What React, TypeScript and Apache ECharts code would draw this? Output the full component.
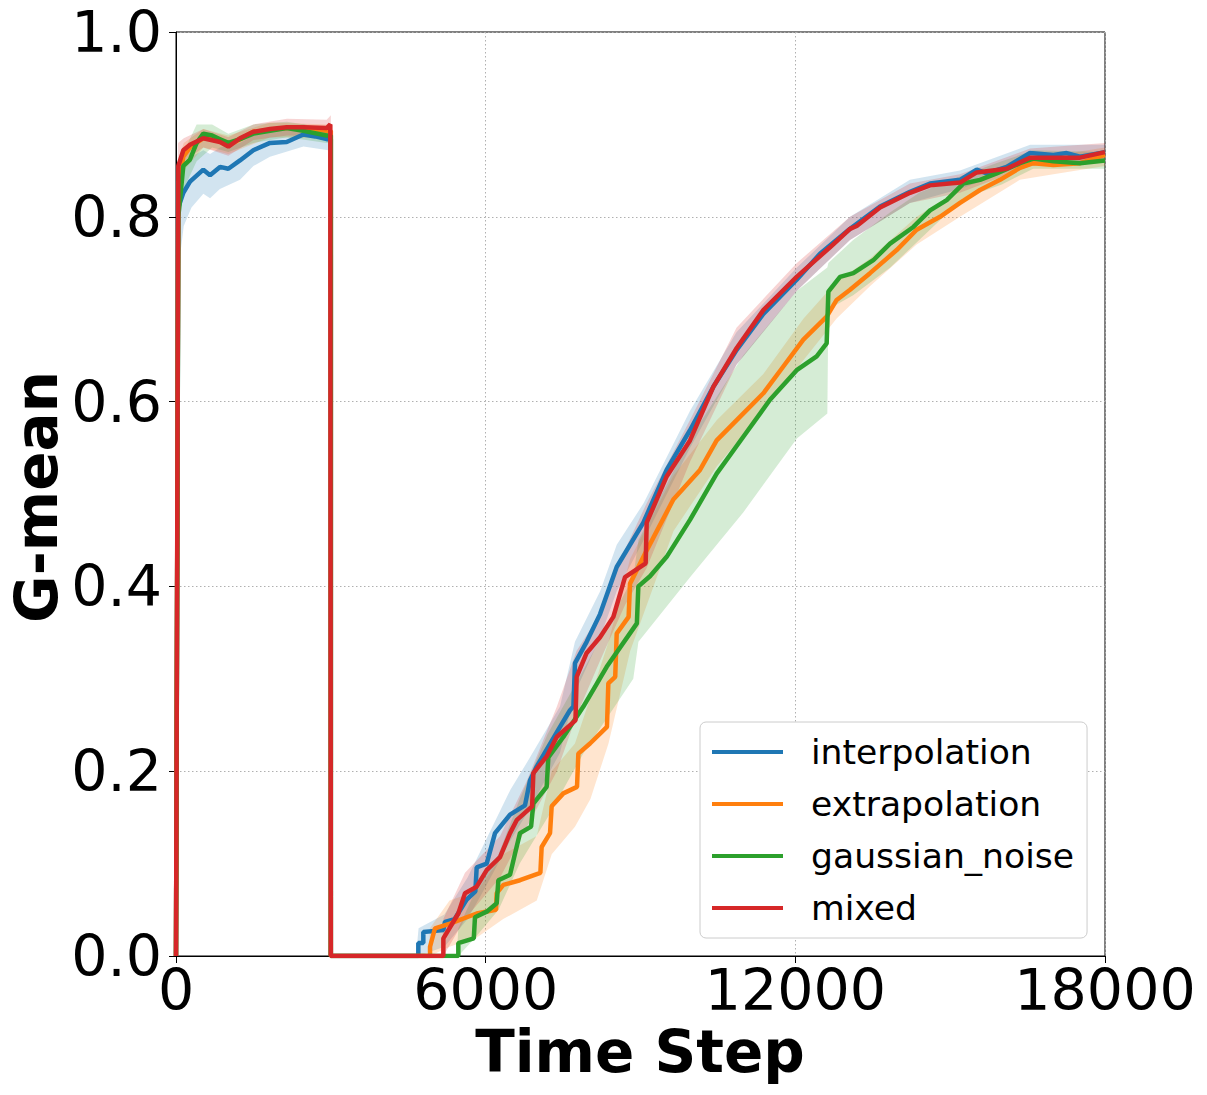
import React, { useEffect, useRef } from "react";
import * as echarts from "echarts";

const seriesNames = ["interpolation", "extrapolation", "gaussian_noise", "mixed"];
const seriesColors = ["#1f77b4", "#ff7f0e", "#2ca02c", "#d62728"];
const xTicks = [0, 6000, 12000, 18000];
const yTicks = [0, 0.2, 0.4, 0.6, 0.8, 1.0];

const interpMean = [
  [0, 0], [45, 0.81], [142, 0.826], [271, 0.838], [529, 0.851], [659, 0.845], [853, 0.854], [1014, 0.852],
  [1240, 0.861], [1498, 0.872], [1821, 0.88], [2145, 0.881], [2467, 0.889], [2700, 0.887], [2920, 0.884],
  [3000, 0.884], [3000, 0], [4695, 0], [4695, 0.014], [4792, 0.014], [4792, 0.026], [5180, 0.028],
  [5212, 0.037], [5400, 0.04], [5632, 0.061], [5800, 0.07], [5826, 0.096], [6020, 0.1], [6181, 0.133],
  [6472, 0.153], [6762, 0.163], [6859, 0.19], [6989, 0.205], [7440, 0.248], [7634, 0.266], [7700, 0.27],
  [7731, 0.317], [7957, 0.34], [8216, 0.37], [8539, 0.421], [9055, 0.469], [9507, 0.526], [9959, 0.569],
  [10411, 0.616], [10864, 0.656], [11380, 0.695], [12026, 0.732], [12478, 0.76], [13060, 0.787],
  [13641, 0.811], [14222, 0.827], [14610, 0.836], [15191, 0.84], [15514, 0.851], [15708, 0.847],
  [16095, 0.854], [16547, 0.869], [16999, 0.867], [17257, 0.869], [17516, 0.865], [18000, 0.87],
];

const extrapMean = [
  [0, 0], [45, 0.83], [142, 0.865], [271, 0.875], [529, 0.885], [853, 0.884], [1014, 0.877], [1240, 0.884],
  [1498, 0.892], [1821, 0.894], [2145, 0.896], [2467, 0.896], [2920, 0.893], [3000, 0.893], [3000, 0],
  [4922, 0], [4922, 0.01], [5018, 0.03], [5309, 0.035], [5826, 0.046], [6200, 0.05], [6214, 0.068],
  [6343, 0.077], [6665, 0.082], [7060, 0.09], [7085, 0.118], [7247, 0.133], [7279, 0.162], [7505, 0.176],
  [7770, 0.183], [7796, 0.219], [8022, 0.23], [8350, 0.248], [8377, 0.295], [8510, 0.302], [8539, 0.349],
  [8770, 0.367], [8797, 0.403], [9120, 0.439], [9636, 0.494], [10153, 0.526], [10476, 0.558],
  [10864, 0.58], [11380, 0.609], [11767, 0.638], [12155, 0.667], [12607, 0.692], [12801, 0.71],
  [13060, 0.721], [13447, 0.739], [13964, 0.764], [14351, 0.786], [14803, 0.8], [15191, 0.815],
  [15578, 0.829], [15966, 0.84], [16353, 0.853], [16611, 0.858], [16999, 0.856], [17516, 0.858], [18000, 0.867],
];

const gaussMean = [
  [0, 0], [45, 0.8], [142, 0.855], [271, 0.862], [400, 0.88], [529, 0.89], [700, 0.888], [853, 0.884],
  [1014, 0.88], [1240, 0.884], [1498, 0.89], [1821, 0.893], [2145, 0.896], [2467, 0.893], [2920, 0.888],
  [3000, 0.888], [3000, 0], [5470, 0], [5470, 0.014], [5770, 0.019], [5793, 0.042], [6020, 0.048],
  [6214, 0.057], [6246, 0.082], [6472, 0.088], [6569, 0.111], [6665, 0.133], [6880, 0.14], [6924, 0.165],
  [7182, 0.183], [7214, 0.215], [7505, 0.237], [7893, 0.27], [8345, 0.313], [8930, 0.36], [8958, 0.4],
  [9184, 0.411], [9507, 0.432], [9959, 0.472], [10476, 0.522], [10992, 0.562], [11509, 0.602],
  [12026, 0.634], [12413, 0.649], [12607, 0.663], [12640, 0.719], [12866, 0.735], [13124, 0.739],
  [13511, 0.753], [13835, 0.771], [14287, 0.789], [14610, 0.807], [14933, 0.818], [15255, 0.836],
  [15578, 0.84], [15901, 0.847], [16353, 0.858], [16611, 0.863], [16999, 0.86], [17516, 0.858], [18000, 0.861],
];

const mixedMean = [
  [0, 0], [45, 0.855], [142, 0.872], [271, 0.878], [529, 0.885], [853, 0.881], [1014, 0.876], [1240, 0.885],
  [1498, 0.892], [1821, 0.895], [2145, 0.897], [2467, 0.897], [2920, 0.896], [2990, 0.9], [3000, 0.9],
  [3000, 0], [5180, 0], [5180, 0.019], [5245, 0.025], [5470, 0.046], [5600, 0.068], [5826, 0.075],
  [6020, 0.093], [6278, 0.107], [6472, 0.133], [6601, 0.147], [6900, 0.162], [6924, 0.198], [7182, 0.216],
  [7376, 0.237], [7740, 0.255], [7763, 0.302], [7957, 0.328], [8216, 0.345], [8474, 0.367], [8700, 0.41],
  [9100, 0.425], [9120, 0.469], [9507, 0.519], [9959, 0.558], [10411, 0.616], [10864, 0.658],
  [11380, 0.699], [12026, 0.735], [12672, 0.767], [13060, 0.787], [13189, 0.79], [13641, 0.81],
  [14222, 0.826], [14610, 0.834], [15191, 0.837], [15514, 0.848], [16095, 0.852], [16547, 0.864],
  [16999, 0.864], [17516, 0.864], [18000, 0.87],
];

// bands: [t, lower, upper]
const interpBand = [
  [0, 0, 0], [40, 0.74, 0.84], [150, 0.79, 0.855], [300, 0.81, 0.865], [530, 0.825, 0.872], [660, 0.82, 0.868],
  [850, 0.83, 0.875], [1240, 0.84, 0.88], [1500, 0.855, 0.888], [1820, 0.865, 0.893], [2470, 0.876, 0.9],
  [2950, 0.872, 0.895], [3000, 0.87, 0.895], [3000, 0, 0], [4650, 0, 0], [4700, 0, 0.03], [5200, 0.01, 0.045],
  [5650, 0.04, 0.085], [6000, 0.075, 0.125], [6480, 0.125, 0.18], [6860, 0.16, 0.215], [7440, 0.22, 0.27],
  [7730, 0.285, 0.34], [8220, 0.345, 0.395], [8540, 0.395, 0.445], [9060, 0.45, 0.49], [9960, 0.55, 0.59],
  [10860, 0.64, 0.675], [12030, 0.72, 0.745], [13060, 0.775, 0.8], [14220, 0.815, 0.84], [15190, 0.83, 0.85],
  [16550, 0.858, 0.878], [18000, 0.86, 0.878],
];

const extrapBand = [
  [0, 0, 0], [40, 0.8, 0.86], [150, 0.85, 0.88], [530, 0.875, 0.895], [1014, 0.868, 0.888], [1820, 0.886, 0.902],
  [2920, 0.885, 0.9], [3000, 0.885, 0.9], [3000, 0, 0], [4900, 0, 0], [4920, 0, 0.03], [5300, 0.01, 0.06],
  [5830, 0.02, 0.07], [6340, 0.04, 0.11], [6990, 0.06, 0.13], [7280, 0.11, 0.2], [7730, 0.14, 0.23],
  [8030, 0.17, 0.28], [8380, 0.23, 0.34], [8800, 0.33, 0.43], [9640, 0.46, 0.52], [10480, 0.53, 0.58],
  [11380, 0.59, 0.63], [12160, 0.645, 0.69], [12800, 0.69, 0.73], [13450, 0.725, 0.755], [14350, 0.77, 0.8],
  [15190, 0.8, 0.83], [16350, 0.84, 0.865], [17000, 0.846, 0.866], [18000, 0.855, 0.875],
];

const gaussBand = [
  [0, 0, 0], [40, 0.78, 0.84], [150, 0.83, 0.87], [400, 0.86, 0.9], [700, 0.875, 0.9], [1014, 0.87, 0.89],
  [1500, 0.88, 0.9], [2150, 0.886, 0.903], [2920, 0.88, 0.896], [3000, 0.88, 0.896], [3000, 0, 0],
  [5440, 0, 0], [5470, 0, 0.03], [5800, 0.02, 0.07], [6250, 0.05, 0.11], [6660, 0.1, 0.17], [7200, 0.15, 0.24],
  [7900, 0.22, 0.31], [8860, 0.3, 0.41], [8960, 0.34, 0.45], [9960, 0.41, 0.56], [10990, 0.48, 0.65],
  [12030, 0.56, 0.72], [12620, 0.587, 0.745], [12640, 0.7, 0.75], [13120, 0.715, 0.775], [13840, 0.745, 0.805],
  [14400, 0.775, 0.826], [15250, 0.82, 0.845], [16000, 0.835, 0.86], [16610, 0.852, 0.872], [18000, 0.852, 0.87],
];

const mixedBand = [
  [0, 0, 0], [40, 0.82, 0.88], [150, 0.86, 0.885], [530, 0.875, 0.895], [1014, 0.866, 0.886], [1500, 0.883, 0.9],
  [2150, 0.888, 0.906], [2920, 0.887, 0.905], [3000, 0.89, 0.91], [3000, 0, 0], [5150, 0, 0], [5180, 0, 0.04],
  [5600, 0.04, 0.09], [6280, 0.085, 0.13], [6800, 0.14, 0.19], [7380, 0.2, 0.27], [7760, 0.26, 0.33],
  [8220, 0.32, 0.37], [8700, 0.38, 0.44], [9120, 0.42, 0.49], [9960, 0.535, 0.58], [10860, 0.64, 0.68],
  [12030, 0.72, 0.75], [13060, 0.775, 0.8], [14220, 0.815, 0.836], [15190, 0.826, 0.846], [16550, 0.855, 0.874],
  [18000, 0.86, 0.88],
];

const means = [interpMean, extrapMean, gaussMean, mixedMean];
const bands = [interpBand, extrapBand, gaussBand, mixedBand];

const FONT = "DejaVu Sans";

export default function App() {
  const ref = useRef<HTMLDivElement>(null);
  useEffect(() => {
    if (!ref.current) return;
    const chart = echarts.init(ref.current, null, { renderer: "svg" });

    const bandSeries = bands.map((band, i) => ({
      type: "custom",
      silent: true,
      z: 1,
      data: [[0, 0]],
      renderItem: (_params: any, api: any) => {
        const upper = band.map((b) => api.coord([b[0], b[2]]));
        const lower = band
          .slice()
          .reverse()
          .map((b) => api.coord([b[0], b[1]]));
        return {
          type: "polygon",
          shape: { points: upper.concat(lower) },
          style: { fill: seriesColors[i], opacity: 0.2 },
        };
      },
    }));

    const lineSeries = means.map((m, i) => ({
      name: seriesNames[i],
      type: "line",
      data: m,
      showSymbol: false,
      symbol: "none",
      z: 3,
      lineStyle: { color: seriesColors[i], width: 4.5 },
      itemStyle: { color: seriesColors[i] },
    }));

    chart.setOption({
      animation: false,
      backgroundColor: "#ffffff",
      grid: {
        left: 176,
        right: 102,
        top: 32,
        bottom: 139,
        show: true,
        borderColor: "#000",
        borderWidth: 1,
        backgroundColor: "transparent",
      },
      xAxis: {
        type: "value",
        min: xTicks[0],
        max: xTicks[xTicks.length - 1],
        interval: xTicks[1] - xTicks[0],
        axisLine: { show: true, lineStyle: { color: "#000", width: 1 } },
        axisTick: { show: true, length: 7, lineStyle: { color: "#000" } },
        axisLabel: {
          color: "#000",
          fontFamily: FONT,
          fontSize: 57,
          margin: 5,
          formatter: (v: number) => String(v),
        },
        splitLine: { show: true, lineStyle: { color: "#b0b0b0", type: [1.5, 2.5], width: 1 } },
      },
      yAxis: {
        type: "value",
        min: yTicks[0],
        max: yTicks[yTicks.length - 1],
        interval: 0.2,
        axisLine: { show: true, lineStyle: { color: "#000", width: 1 } },
        axisTick: { show: true, length: 7, lineStyle: { color: "#000" } },
        axisLabel: {
          color: "#000",
          fontFamily: FONT,
          fontSize: 57,
          margin: 14,
          formatter: (v: number) => v.toFixed(1),
        },
        splitLine: { show: true, lineStyle: { color: "#b0b0b0", type: [1.5, 2.5], width: 1 } },
      },
      legend: {
        orient: "vertical",
        left: 700,
        top: 722,
        data: seriesNames,
        icon: "rect",
        backgroundColor: "#ffffff",
        borderColor: "#cccccc",
        borderWidth: 1,
        borderRadius: 6,
        padding: [10, 13, 10, 12],
        itemWidth: 71,
        itemHeight: 4,
        itemGap: 12,
        textStyle: {
          fontFamily: FONT,
          fontSize: 34.6,
          color: "#000",
          lineHeight: 40,
          padding: [0, 0, 0, 23],
        },
      },
      graphic: [
        {
          type: "text",
          x: 37,
          y: 497,
          rotation: Math.PI / 2,
          style: {
            text: "G-mean",
            fontFamily: FONT,
            fontWeight: "bold",
            fontSize: 58,
            fill: "#000",
            align: "center",
            verticalAlign: "middle",
          },
        },
        {
          type: "text",
          x: 640,
          y: 1052,
          style: {
            text: "Time Step",
            fontFamily: FONT,
            fontWeight: "bold",
            fontSize: 58,
            fill: "#000",
            align: "center",
            verticalAlign: "middle",
          },
        },
      ],
      series: [...bandSeries, ...lineSeries],
    });

    return () => chart.dispose();
  }, []);

  return (
    <div
      ref={ref}
      style={{ position: "fixed", left: 0, top: 0, width: 1207, height: 1095, background: "#fff" }}
    />
  );
}
